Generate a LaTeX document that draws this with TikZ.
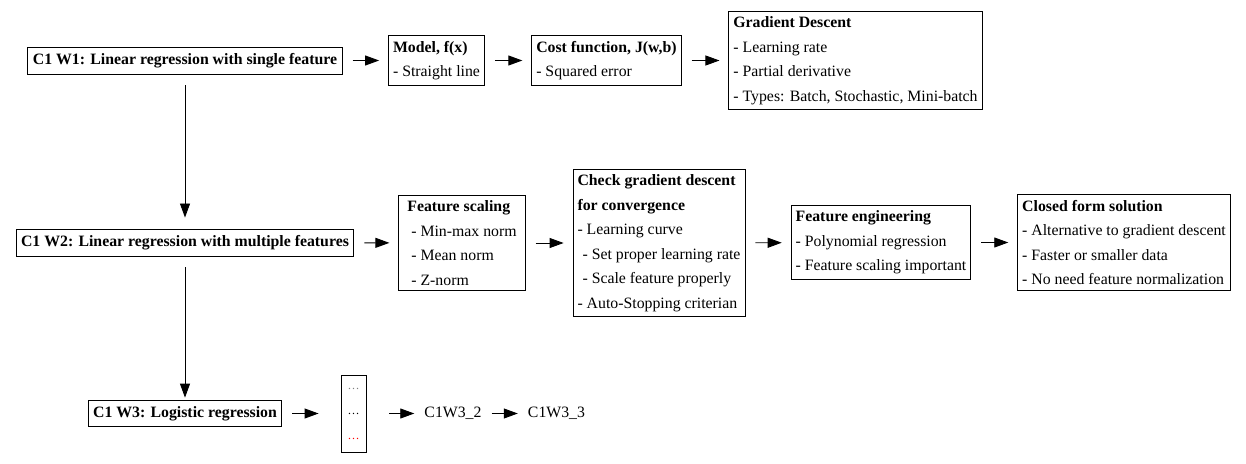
\documentclass[tikz,border=0pt]{standalone}
\usepackage{fontspec}
\setmainfont{Liberation Serif}
\usetikzlibrary{arrows.meta, positioning}

\begin{document}
\begin{tikzpicture}[x=1pt, y=-1pt,
  topic/.style={draw, line width=0.9pt, inner xsep=5pt, inner ysep=6.2pt, font=\fontsize{15.8}{18}\selectfont\bfseries},
  card/.style={draw, line width=0.9pt, align=left, inner xsep=4.5pt, inner ysep=5.4pt, font=\fontsize{15.8}{24.5}\selectfont},
  plain/.style={inner sep=2pt, font=\fontsize{15.8}{18}\selectfont},
  arrow/.style={-{Triangle[length=14pt,width=10pt]}, line width=0.9pt, shorten <=10pt, shorten >=9pt}]
\useasboundingbox (0,0) rectangle (1246,463);
% row 1
\node[topic] (w1) at (185,60.5) {C1 W1: Linear regression with single feature};
\node[card] (model) at (436.5,60.5) {\textbf{Model, f(x)}\\- Straight line};
\node[card] (cost) at (606.5,60.5) {\textbf{Cost function, J(w,b)}\\- Squared error};
\node[card] (gd) at (855.5,60.5) {\textbf{Gradient Descent}\\- Learning rate\\- Partial derivative\\- Types: Batch, Stochastic, Mini-batch};
% row 2
\node[topic] (w2) at (185,242.5) {C1 W2: Linear regression with multiple features};
\node[card, inner xsep=8.5pt] (scale) at (462,243) {\textbf{Feature scaling}\\\hspace*{4pt}- Min-max norm\\\hspace*{4pt}- Mean norm\\\hspace*{4pt}- Z-norm};
\node[card] (check) at (659,243) {\textbf{Check gradient descent}\\\textbf{for convergence}\\- Learning curve\\\hspace*{5pt}- Set proper learning rate\\\hspace*{5pt}- Scale feature properly\\- Auto-Stopping criterian};
\node[card] (feng) at (881,242.5) {\textbf{Feature engineering}\\- Polynomial regression\\- Feature scaling important};
\node[card] (closed) at (1124,242.5) {\textbf{Closed form solution}\\- Alternative to gradient descent\\- Faster or smaller data\\- No need feature normalization};
% row 3
\node[topic] (w3) at (185,413.5) {C1 W3: Logistic regression};
\node[draw, line width=0.9pt, minimum width=25pt, minimum height=77pt, align=center, inner sep=0pt, font=\fontsize{12}{25}\selectfont] (dots) at (353.5,413.5) {\textcolor{gray}{\ldots}\\\ldots\\\textcolor{red}{\ldots}};
\node[plain] (c2) at (453,413.5) {C1W3\_2};
\node[plain] (c3) at (556.5,413.5) {C1W3\_3};
% connectors
\draw[arrow] (w1) -- (model);
\draw[arrow] (model) -- (cost);
\draw[arrow] (cost) -- (gd);
\draw[arrow, shorten <=11pt, shorten >=11pt] (w1) -- (w2);
\draw[arrow] (w2) -- (scale);
\draw[arrow] (scale) -- (check);
\draw[arrow] (check) -- (feng);
\draw[arrow] (feng) -- (closed);
\draw[arrow, shorten <=11pt, shorten >=2pt] (w2) -- (w3);
\draw[arrow, shorten >=22pt] (w3) -- (dots);
\draw[arrow, shorten <=23pt, shorten >=8pt] (dots) -- (c2);
\draw[arrow, shorten <=8pt, shorten >=8pt] (c2) -- (c3);
\end{tikzpicture}
\end{document}
